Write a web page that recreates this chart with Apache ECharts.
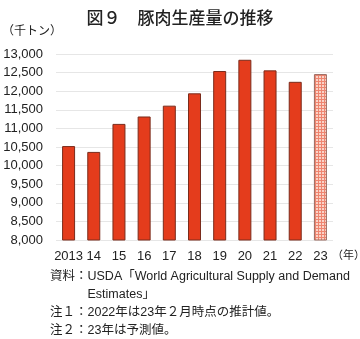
<!DOCTYPE html>
<html><head><meta charset="utf-8">
<script src="https://cdn.jsdelivr.net/npm/echarts@6/dist/echarts.min.js"></script>
<style>html,body{margin:0;padding:0;background:#fff}#c{width:360px;height:339px}</style>
</head><body><div id="c"></div>
<script>
var categories = ['2013','14','15','16','17','18','19','20','21','22','23'];
var production = [10525,10368,11121,11320,11611,11943,12543,12845,12560,12252,12460];
var forecastIndex = 10;
var titleText = '図９　豚肉生産量の推移';
var unitText = '（千トン）';
var yearUnit = '（年）';
var notes = ['資料：USDA「World Agricultural Supply and Demand', '　　　Estimates」', '注１：2022年は23年２月時点の推計値。', '注２：23年は予測値。'];

var pc = document.createElement('canvas');
pc.width = 3; pc.height = 3;
var ctx = pc.getContext('2d');
ctx.fillStyle = '#fad3c8'; ctx.fillRect(0,0,3,3);
ctx.fillStyle = '#ee8570'; ctx.fillRect(0,0,3,1); ctx.fillRect(0,0,1,3);

var FONT = "'Liberation Sans','Noto Sans CJK JP',sans-serif";
var data = production.map(function(v,i){
  if (i === forecastIndex) return {value:v, itemStyle:{color:{image:pc, repeat:'repeat'}, borderColor:'#9a6a60'}};
  return v;
});
var chart = echarts.init(document.getElementById('c'), null, {renderer:'canvas'});
var graphics = [
  {type:'text', left:2, top:26, style:{text:unitText, font:'12px ' + FONT, fill:'#222'}},
  {type:'text', left:332, top:250, style:{text:yearUnit, font:'11px ' + FONT, fill:'#222'}}
];
var noteY = [271, 289, 307, 325];
notes.forEach(function(t,i){
  graphics.push({type:'text', left:50, top:noteY[i]-1, style:{text:t, font:'12.5px ' + FONT, fill:'#222'}});
});
chart.setOption({
  animation:false,
  title:{text:titleText, left:'center', top:4, textStyle:{fontFamily:"'Noto Sans CJK JP',sans-serif", fontSize:17, fontWeight:500, color:'#222'}},
  grid:{left:56, right:27, top:54, bottom:99},
  xAxis:{type:'category', data:categories, axisLine:{show:false}, axisTick:{show:false},
    axisLabel:{fontFamily:FONT, fontSize:13, color:'#222', margin:10, interval:0}},
  yAxis:{type:'value', min:8000, max:13000, interval:500,
    axisLine:{show:false}, axisTick:{show:false},
    splitLine:{lineStyle:{color:'#e6e6e6', width:1}},
    axisLabel:{fontFamily:FONT, fontSize:13, color:'#222', margin:13,
      formatter:function(v){return v.toLocaleString('en-US');}}},
  series:[{type:'bar', data:data, barWidth:13,
    itemStyle:{color:'#e43c1c', borderColor:'#7a2c1c', borderWidth:1}}],
  graphic:graphics
});
</script></body></html>
